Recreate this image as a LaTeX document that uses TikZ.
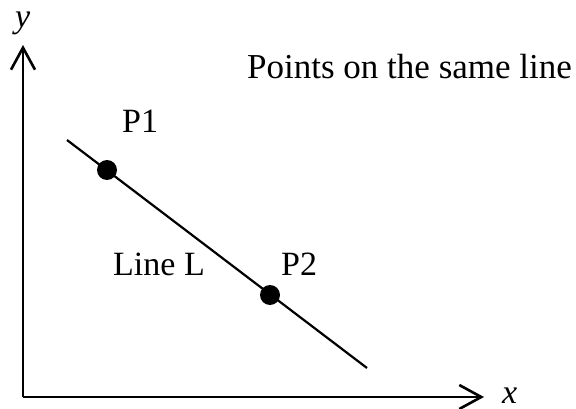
\documentclass[tikz,border=0pt]{standalone}
\usepackage{fontspec}
\setmainfont{Liberation Serif}
\usetikzlibrary{arrows.meta,positioning}
\tikzset{
  axisline/.style={line width=2.6pt,-{Straight Barb[length=22pt,width=24pt,line width=2.6pt]}},
  pointdot/.style={circle,fill=black,inner sep=0pt,minimum size=20pt},
  ptlabel/.style={font=\fontsize{34}{40}\selectfont,inner sep=0pt,anchor=base west},
  linel/.style={line width=2.2pt},
}
\begin{document}
\begin{tikzpicture}[x=1pt,y=-1pt]
  \useasboundingbox (0,0) rectangle (576,409);
  \coordinate (origin) at (23,397);
  \coordinate (ytip) at (23,45);
  \coordinate (xtip) at (484,397);
  \draw[axisline] (origin) -- (ytip);
  \draw[axisline] (origin) -- (xtip);
  \node[ptlabel] (ylab) at (15,28) {\textit{y}};
  \node[ptlabel] (xlab) at (502,403) {\textit{x}};
  % the line and its points
  \coordinate (lstart) at (67,140);
  \coordinate (lend) at (367,368);
  \draw[linel] (lstart) -- (lend);
  \node[pointdot] (p1) at (107,170) {};
  \node[pointdot] (p2) at (270,295) {};
  \node[ptlabel] (p1lab) at (122,133) {P1};
  \node[ptlabel] (p2lab) at (281,275) {P2};
  \node[ptlabel] (linelab) at (113,275) {Line L};
  \node[ptlabel,font=\fontsize{35}{42}\selectfont] (title) at (247,79) {Points on the same line};
\end{tikzpicture}
\end{document}
